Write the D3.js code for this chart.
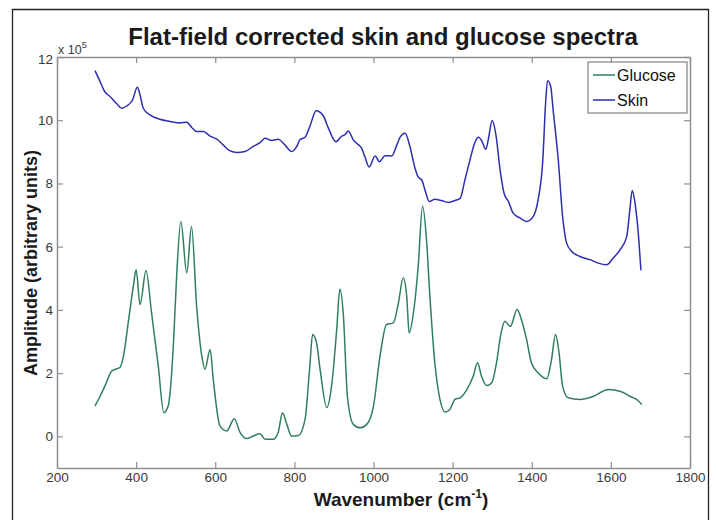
<!DOCTYPE html>
<html>
<head>
<meta charset="utf-8">
<script src="https://cdn.jsdelivr.net/npm/d3@7"></script>
<style>
  body { margin: 0; background: #fff; }
  svg { display: block; font-family: "Liberation Sans", Arial, sans-serif; }
</style>
</head>
<body>
<div id="chart"></div>
<script>
// ─── DATA (amplitude in units of 10^5) ───
const glucoseX = [296, 309, 321, 338, 347, 359, 368, 380, 393, 400, 410, 425, 439, 456, 470, 481, 494, 502, 513, 528, 540, 553, 566, 574, 587, 595, 612, 629, 648, 663, 679, 696, 713, 726, 747, 759, 770, 781, 793, 810, 827, 839, 846, 856, 865, 882, 894, 907, 915, 924, 934, 949, 966, 983, 1000, 1016, 1033, 1050, 1063, 1075, 1084, 1090, 1101, 1113, 1124, 1134, 1142, 1155, 1168, 1181, 1193, 1206, 1219, 1236, 1252, 1263, 1273, 1286, 1299, 1311, 1321, 1332, 1346, 1363, 1374, 1387, 1399, 1416, 1438, 1450, 1460, 1469, 1478, 1492, 1522, 1556, 1594, 1623, 1648, 1665, 1678];
const glucoseY = [0.96, 1.27, 1.59, 2.06, 2.12, 2.18, 2.54, 3.59, 4.75, 5.27, 4.17, 5.25, 3.91, 2.22, 0.75, 0.96, 2.85, 4.96, 6.80, 5.17, 6.64, 4.11, 2.54, 2.12, 2.75, 1.80, 0.33, 0.17, 0.56, 0.12, -0.07, 0.01, 0.08, -0.09, -0.09, 0.12, 0.75, 0.38, 0.01, 0.03, 0.54, 2.22, 3.22, 2.96, 2.12, 0.91, 1.59, 3.38, 4.66, 3.80, 1.27, 0.38, 0.27, 0.38, 0.96, 2.50, 3.54, 3.59, 4.22, 5.01, 4.43, 3.27, 3.91, 5.38, 7.29, 6.22, 4.54, 2.33, 1.17, 0.77, 0.85, 1.17, 1.22, 1.48, 1.90, 2.33, 1.90, 1.61, 1.70, 2.33, 3.17, 3.64, 3.48, 4.01, 3.69, 3.06, 2.33, 2.01, 1.82, 2.43, 3.22, 2.64, 1.59, 1.22, 1.17, 1.27, 1.48, 1.43, 1.27, 1.17, 1.01];

const skinX = [296, 309, 321, 334, 351, 364, 376, 391, 403, 410, 418, 435, 460, 486, 511, 528, 540, 553, 570, 587, 604, 620, 633, 654, 675, 696, 713, 726, 743, 759, 776, 793, 806, 814, 827, 839, 855, 873, 886, 905, 920, 928, 936, 949, 962, 970, 978, 989, 1004, 1015, 1029, 1046, 1059, 1067, 1080, 1092, 1105, 1113, 1122, 1130, 1141, 1155, 1172, 1189, 1206, 1219, 1231, 1244, 1254, 1265, 1273, 1284, 1290, 1300, 1310, 1320, 1330, 1341, 1353, 1370, 1387, 1404, 1416, 1428, 1435, 1440, 1448, 1454, 1467, 1478, 1488, 1501, 1522, 1547, 1568, 1589, 1606, 1623, 1640, 1648, 1654, 1661, 1670, 1676];
const skinY = [11.57, 11.22, 10.90, 10.75, 10.52, 10.38, 10.45, 10.64, 11.04, 10.80, 10.38, 10.17, 10.03, 9.96, 9.91, 9.94, 9.78, 9.64, 9.64, 9.50, 9.40, 9.22, 9.06, 8.98, 9.01, 9.17, 9.29, 9.43, 9.36, 9.40, 9.22, 9.01, 9.17, 9.38, 9.46, 9.80, 10.30, 10.14, 9.75, 9.32, 9.50, 9.54, 9.66, 9.38, 9.22, 9.12, 8.85, 8.52, 8.87, 8.69, 8.88, 8.87, 9.22, 9.46, 9.59, 9.17, 8.48, 8.20, 8.11, 7.80, 7.43, 7.50, 7.46, 7.40, 7.46, 7.53, 8.11, 8.75, 9.22, 9.46, 9.36, 9.08, 9.38, 9.99, 9.49, 8.43, 7.69, 7.43, 7.06, 6.91, 6.80, 6.96, 7.48, 8.75, 10.54, 11.25, 11.06, 10.33, 8.75, 6.96, 6.12, 5.85, 5.69, 5.59, 5.48, 5.43, 5.64, 5.90, 6.32, 7.17, 7.78, 7.38, 6.32, 5.25];

const xTicks = [200, 400, 600, 800, 1000, 1200, 1400, 1600, 1800];
const yTicks = [0, 2, 4, 6, 8, 10, 12];

const seriesNames = ['Glucose', 'Skin'];
const seriesColors = ['#2f7f5c', '#2e2eb0'];

// ─── LAYOUT ───
const width = 716, height = 520;
const margin = { top: 57, right: 26, bottom: 52, left: 57 };
const axisColor = '#8e8e8e';

const svg = d3.select('#chart').append('svg')
    .attr('width', width)
    .attr('height', height);

// outer figure frame (open at the bottom)
svg.append('path')
    .attr('d', `M12.5,${height + 2} L12.5,9.5 L708.5,9.5 L708.5,${height + 2}`)
    .attr('fill', 'none')
    .attr('stroke', '#222')
    .attr('stroke-width', 1.3);

const x = d3.scaleLinear().domain([200, 1800]).range([margin.left, width - margin.right]);
const y = d3.scaleLinear().domain([-1, 12]).range([height - margin.bottom, margin.top]);

// Axes (MATLAB-style boxed, inward ticks)
const styleAxis = g => {
    g.select('.domain').attr('stroke', axisColor).attr('stroke-width', 1.5);
    g.selectAll('.tick line').attr('stroke', axisColor).attr('stroke-width', 1.2);
    g.selectAll('.tick text').attr('fill', '#3a3a3a').attr('font-size', 13.5);
};

svg.append('g')
    .attr('transform', `translate(0,${height - margin.bottom})`)
    .call(d3.axisBottom(x).tickValues(xTicks).tickFormat(d3.format('d'))
        .tickSizeInner(-6).tickSizeOuter(0).tickPadding(4))
    .call(styleAxis);

svg.append('g')
    .attr('transform', `translate(0,${margin.top})`)
    .call(d3.axisTop(x).tickValues(xTicks).tickSizeInner(-6).tickSizeOuter(0).tickFormat(''))
    .call(styleAxis);

svg.append('g')
    .attr('transform', `translate(${margin.left},0)`)
    .call(d3.axisLeft(y).tickValues(yTicks).tickFormat(d3.format('d'))
        .tickSizeInner(-6).tickSizeOuter(0).tickPadding(4))
    .call(styleAxis)
    .call(g => g.selectAll('.tick text').attr('dy', d => d === 12 ? '0.45em' : '0.32em'));

svg.append('g')
    .attr('transform', `translate(${width - margin.right},0)`)
    .call(d3.axisRight(y).tickValues(yTicks).tickSizeInner(-6).tickSizeOuter(0).tickFormat(''))
    .call(styleAxis);

// exponent note
const expo = svg.append('text')
    .attr('x', margin.left + 1)
    .attr('y', 54)
    .attr('font-size', 12.5)
    .attr('fill', '#3a3a3a');
expo.append('tspan').text('x 10');
expo.append('tspan').attr('dy', -6).attr('font-size', 9).text('5');

// Lines
const line = d3.line()
    .x(d => x(d[0]))
    .y(d => y(d[1]))
    .curve(d3.curveMonotoneX);

const series = [
    d3.zip(glucoseX, glucoseY),
    d3.zip(skinX, skinY)
];

series.forEach((pts, i) => {
    svg.append('path')
        .datum(pts)
        .attr('fill', 'none')
        .attr('stroke', seriesColors[i])
        .attr('stroke-width', 1.5)
        .attr('stroke-linejoin', 'round')
        .attr('d', line);
});

// Legend
const legend = svg.append('g').attr('transform', 'translate(588,62)');
legend.append('rect')
    .attr('width', 99)
    .attr('height', 51)
    .attr('fill', '#fff')
    .attr('stroke', '#8a8a8a')
    .attr('stroke-width', 1.3);
seriesNames.forEach((name, i) => {
    const ly = 13 + i * 25;
    legend.append('line')
        .attr('x1', 5).attr('x2', 27)
        .attr('y1', ly).attr('y2', ly)
        .attr('stroke', seriesColors[i])
        .attr('stroke-width', 1.5);
    legend.append('text')
        .attr('x', 29)
        .attr('y', ly)
        .attr('dy', '0.35em')
        .attr('font-size', 16)
        .attr('fill', '#111')
        .text(name);
});

// Titles
svg.append('text')
    .attr('x', 383)
    .attr('y', 45)
    .attr('text-anchor', 'middle')
    .attr('font-size', 24)
    .attr('font-weight', 'bold')
    .attr('fill', '#1a1a1a')
    .text('Flat-field corrected skin and glucose spectra');

const xl = svg.append('text')
    .attr('x', 401)
    .attr('y', 506)
    .attr('text-anchor', 'middle')
    .attr('font-size', 19)
    .attr('font-weight', 'bold')
    .attr('fill', '#1a1a1a');
xl.append('tspan').text('Wavenumber (cm');
xl.append('tspan').attr('dy', -8).attr('font-size', 12).text('-1');
xl.append('tspan').attr('dy', 8).text(')');

svg.append('text')
    .attr('transform', 'translate(37,263) rotate(-90)')
    .attr('text-anchor', 'middle')
    .attr('font-size', 18)
    .attr('font-weight', 'bold')
    .attr('fill', '#1a1a1a')
    .text('Amplitude (arbitrary units)');
</script>
</body>
</html>
